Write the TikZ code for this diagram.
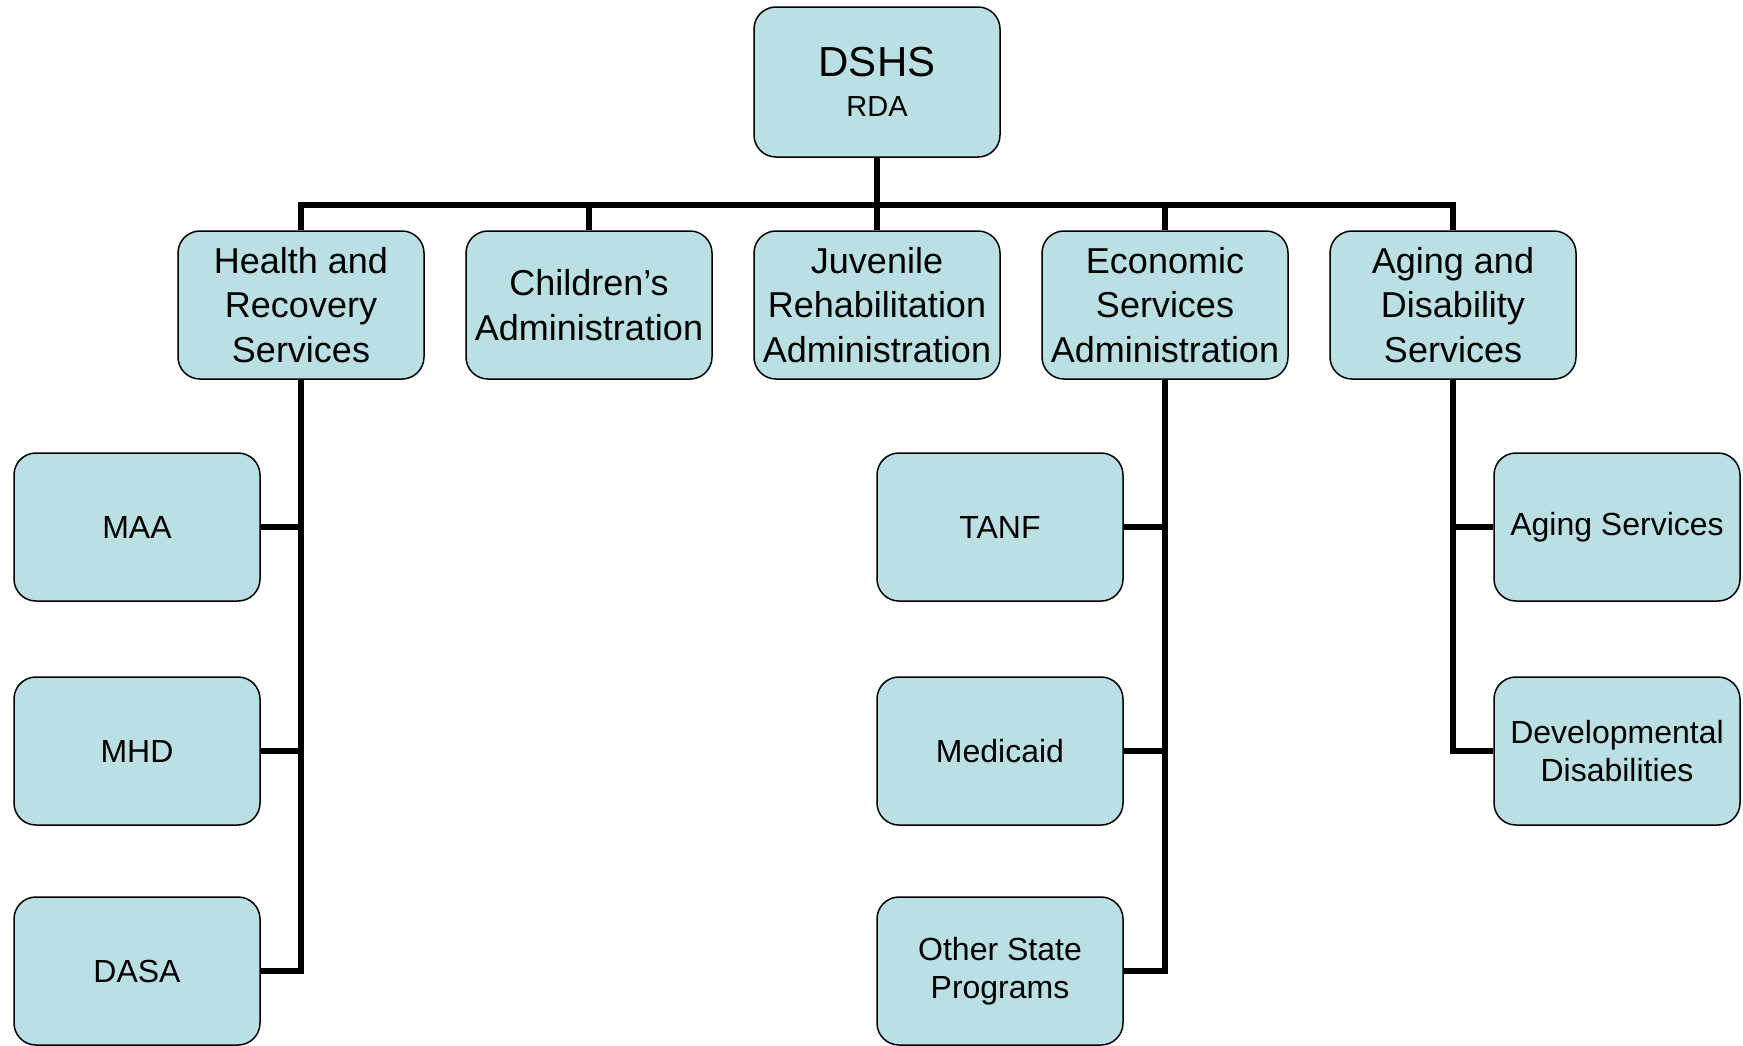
\documentclass[tikz,border=0pt]{standalone}
\usepackage{fontspec}
\setmainfont{Liberation Sans}
\definecolor{boxfill}{RGB}{187,224,227}
\tikzset{
  unit/.style={draw, line width=1.5pt, fill=boxfill, rounded corners=22pt,
    minimum width=246pt, minimum height=148pt, inner sep=2pt, align=center},
  dept/.style={unit, font=\fontsize{36}{44.5}\selectfont},
  prog/.style={unit, font=\fontsize{32}{38}\selectfont},
  link/.style={line width=5.5pt, line join=miter}
}

\begin{document}
\begin{tikzpicture}[x=1pt, y=-1pt]

\useasboundingbox (0,0) rectangle (1743,1045);

\node [unit, minimum height=150pt, font=\fontsize{29}{40}\selectfont] (dshs) at (877,82)
  {{\fontsize{42}{40}\selectfont DSHS}\\RDA};

\node [dept] (hrs)  at (301,305)  {Health and\\Recovery\\Services};
\node [dept] (ca)   at (589,305)  {Children’s\\Administration};
\node [dept] (jra)  at (877,305)  {Juvenile\\Rehabilitation\\Administration};
\node [dept] (esa)  at (1165,305) {Economic\\Services\\Administration};
\node [dept] (adsa) at (1453,305) {Aging and\\Disability\\Services};

\node [prog] (maa)   at (137,527)  {MAA};
\node [prog] (mhd)   at (137,751)  {MHD};
\node [prog] (dasa)  at (137,971)  {DASA};
\node [prog] (tanf)  at (1000,527) {TANF};
\node [prog] (mcd)   at (1000,751) {Medicaid};
\node [prog] (osp)   at (1000,971) {Other State\\Programs};
\node [prog] (aging) at (1617,527) {Aging Services};
\node [prog] (dd)    at (1617,751) {Developmental\\Disabilities};

\coordinate (bar) at (0,205);
\draw [link] (dshs.south) -- (dshs.south |- bar);
\draw [link] (hrs.north) |- (adsa.north |- bar) -- (adsa.north);
\foreach \n in {ca, jra, esa} {
  \draw [link] (\n.north) -- (\n.north |- bar);
}

\draw [link] (hrs.south) |- (dasa.east);
\foreach \n in {maa, mhd} {
  \draw [link] (\n.east) -- (\n.east -| hrs.south);
}
\draw [link] (esa.south) |- (osp.east);
\foreach \n in {tanf, mcd} {
  \draw [link] (\n.east) -- (\n.east -| esa.south);
}
\draw [link] (adsa.south) |- (dd.west);
\draw [link] (aging.west) -- (aging.west -| adsa.south);

\end{tikzpicture}
\end{document}
